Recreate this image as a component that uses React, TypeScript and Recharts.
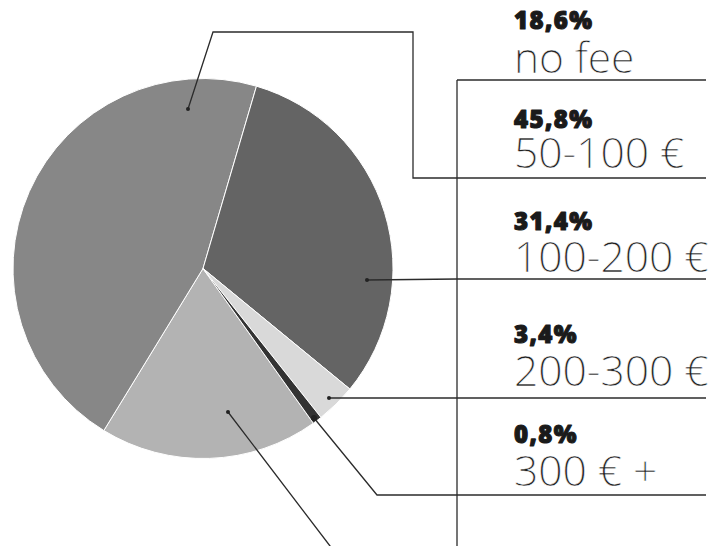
import React from "react";
import { PieChart, Pie, Cell } from "recharts";

const categories = ["no fee", "50-100 €", "100-200 €", "200-300 €", "300 € +"];
const values = [18.6, 45.8, 31.4, 3.4, 0.8];
const colors = ["#b3b3b3", "#878787", "#646464", "#d9d9d9", "#333333"];

const data = categories.map((name, i) => ({ name, value: values[i] }));

// layout (pixel positions of the right-hand panel and leader lines)
const CX = 203;
const CY = 268.5;
const PANEL_X = 457;
const TEXT_X = 514;
const rowLineY = [80, 178, 279, 398, 495];
const pctBaseline = [29, 128, 230, 343, 443];
const nameBaseline = [73, 168, 272, 386, 486];
// leader line points relative to pie centre
const leaders: number[][][] = [
  [[25, 143.5], [127, 277.5], [140, 295]],
  [[-15, -159.5], [10, -236.5], [210, -236.5], [210, -90.5], [254, -90.5]],
  [[164, 11.5], [254, 10.5]],
  [[126, 129.5], [254, 129.5]],
  [[111, 149.5], [174, 226.5], [254, 226.5]],
];
const dotR = [2, 2, 2, 2, 3];

const fmt = (v: number) => v.toFixed(1).replace(".", ",") + "%";

const renderLabel = (props: any) => {
  const { cx, cy, index, value, name } = props;
  const pts = leaders[index].map(([dx, dy]) => `${cx + dx},${cy + dy}`).join(" ");
  const [d0x, d0y] = leaders[index][0];
  return (
    <g key={`lbl-${index}`}>
      <polyline points={pts} fill="none" stroke="#2b2b2b" strokeWidth={1.3} />
      <circle cx={cx + d0x} cy={cy + d0y} r={dotR[index]} fill="#222" />
      <text
        x={TEXT_X}
        y={pctBaseline[index]}
        fontFamily="'Open Sans ExtraBold', 'Open Sans', sans-serif"
        fontWeight={800}
        fontSize={24}
        fill="#1a1a1a"
        stroke="#1a1a1a"
        strokeWidth={1.1}
        strokeLinejoin="round"
        letterSpacing={1.4}
      >
        {fmt(value)}
      </text>
      <text
        x={TEXT_X}
        y={nameBaseline[index]}
        fontFamily="'Open Sans Light', 'Open Sans', sans-serif"
        fontWeight={300}
        fontSize={42.5}
        fill="#1e1e1e"
        stroke="#ffffff"
        strokeWidth={0.5}
        paintOrder="fill"
      >
        {name}
      </text>
      <line x1={PANEL_X} y1={rowLineY[index]} x2={706} y2={rowLineY[index]} stroke="#2b2b2b" strokeWidth={1.3} />
    </g>
  );
};

export default function App() {
  return (
    <div style={{ position: "absolute", left: 0, top: 0, width: 724, height: 546, background: "#fff" }}>
      <PieChart width={724} height={546} margin={{ top: 0, right: 0, bottom: 0, left: 0 }}>
        <Pie
          data={data}
          dataKey="value"
          nameKey="name"
          cx={CX}
          cy={CY}
          outerRadius={190}
          startAngle={-54.5}
          endAngle={-414.5}
          stroke="#ffffff"
          strokeWidth={1}
          label={renderLabel}
          labelLine={false}
          isAnimationActive={false}
        >
          {data.map((d, i) => (
            <Cell key={d.name} fill={colors[i]} />
          ))}
        </Pie>
        <line x1={PANEL_X} y1={80} x2={PANEL_X} y2={546} stroke="#2b2b2b" strokeWidth={1.3} />
      </PieChart>
    </div>
  );
}
